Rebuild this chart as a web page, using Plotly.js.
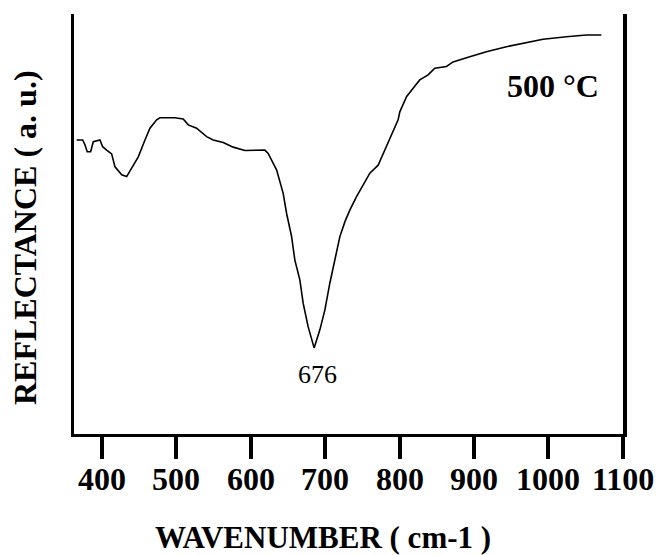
<!DOCTYPE html>
<html>
<head>
<meta charset="utf-8">
<script src="https://cdn.plot.ly/plotly-3.0.1.min.js"></script>
<style>html,body{margin:0;padding:0;background:#fff;}#chart{width:665px;height:555px;}</style>
</head>
<body>
<div id="chart"></div>
<script>
// Wavenumber (cm-1) and reflectance (a.u.)
const wavenumber = [366.0, 374.1, 377.2, 380.2, 384.8, 388.3, 397.3, 400.9, 406.3, 413.0,
  417.5, 426.5, 433.2, 439.9, 448.8, 457.8, 464.5, 473.5, 477.9, 498.1,
  509.2, 516.0, 527.2, 540.7, 549.5, 563.0, 576.4, 592.1, 603.3, 619.0,
  623.4, 634.7, 643.6, 648.2, 654.9, 659.3, 666.0, 670.5, 677.2, 685.2,
  692.9, 699.6, 706.3, 713.0, 719.8, 726.5, 733.2, 742.2, 751.1, 760.1,
  771.2, 777.9, 784.6, 791.3, 798.1, 800.4, 809.4, 818.3, 827.2, 838.4,
  847.4, 863.1, 871.9, 894.4, 916.8, 943.7, 970.6, 992.9, 1024.4, 1051.1, 1071.3];
const reflectance = [70.0, 70.0, 68.8, 67.2, 67.2, 69.6, 70.0, 68.4, 67.6, 66.7,
  63.6, 61.7, 61.3, 63.3, 66.0, 70.0, 72.8, 74.8, 75.3, 75.3,
  75.0, 73.6, 72.8, 70.8, 70.0, 69.4, 68.3, 67.5, 67.6, 67.6,
  66.8, 62.9, 57.3, 52.5, 47.0, 41.4, 36.7, 31.1, 25.5, 20.5,
  24.8, 29.5, 35.9, 41.4, 47.0, 50.5, 53.3, 56.5, 59.3, 62.1,
  64.0, 66.8, 69.2, 72.4, 74.8, 76.7, 80.3, 82.3, 84.3, 85.5,
  87.1, 87.5, 88.6, 89.8, 91.0, 92.2, 93.2, 94.0, 94.6, 95.0, 95.0];
const tickValues = [400, 500, 600, 700, 800, 900, 1000, 1100];
const tickLabels = ['400', '500', '600', '700', '800', '900', '1000', '1100'];
const peakLabel = '676';
const sampleLabel = '500 °C';
const xTitle = 'WAVENUMBER ( cm-1 )';
const yTitle = 'REFLECTANCE ( a. u.)';

let minIdx = 0;
for (let i = 1; i < reflectance.length; i++) if (reflectance[i] < reflectance[minIdx]) minIdx = i;

const serif = '"Liberation Serif", "Times New Roman", serif';

const trace = {
  x: wavenumber, y: reflectance, type: 'scatter', mode: 'lines',
  line: {color: '#000', width: 1.6}, hoverinfo: 'skip', showlegend: false
};

const annotations = [
  {x: wavenumber[minIdx], y: reflectance[minIdx], xref: 'x', yref: 'y',
   text: peakLabel, showarrow: false, xanchor: 'center', yanchor: 'middle',
   xshift: 3, yshift: -27,
   font: {family: serif, size: 26, color: '#000'}},
  {x: 0.8725, y: 0.8286, xref: 'paper', yref: 'paper', text: '<b>' + sampleLabel + '</b>',
   showarrow: false, xanchor: 'center', yanchor: 'middle',
   font: {family: serif, size: 32, color: '#000'}},
  {x: (323 - 74) / 549, y: (434 - 537) / 420, xref: 'paper', yref: 'paper', text: '<b>' + xTitle + '</b>',
   showarrow: false, xanchor: 'center', yanchor: 'middle',
   font: {family: serif, size: 31, color: '#000'}},
  {x: (25 - 74) / 549, y: (434 - 238) / 420, xref: 'paper', yref: 'paper', text: '<b>' + yTitle + '</b>',
   showarrow: false, textangle: -90, xanchor: 'center', yanchor: 'middle',
   font: {family: serif, size: 32, color: '#000'}}
];
tickValues.forEach((v, i) => {
  annotations.push({x: v, y: (434 - 479) / 420, xref: 'x', yref: 'paper', text: '<b>' + tickLabels[i] + '</b>',
    showarrow: false, xanchor: 'center', yanchor: 'middle',
    font: {family: serif, size: 32, color: '#000'}});
});

const layout = {
  width: 665, height: 555,
  margin: {l: 74, r: 42, t: 14, b: 121, pad: 0},
  paper_bgcolor: '#fff', plot_bgcolor: '#fff',
  showlegend: false,
  xaxis: {
    range: [362.4, 1100.4], showgrid: false, zeroline: false,
    showline: true, linecolor: '#000', linewidth: 2.5, mirror: false,
    ticks: 'outside', ticklen: 22, tickwidth: 4, tickcolor: '#000',
    tickmode: 'array', tickvals: tickValues, showticklabels: false
  },
  yaxis: {
    range: [0, 100], showgrid: false, zeroline: false,
    showline: true, linecolor: '#000', linewidth: 3.5, mirror: true,
    ticks: '', showticklabels: false
  },
  annotations: annotations
};

Plotly.newPlot('chart', [trace], layout, {staticPlot: true, displayModeBar: false});
</script>
</body>
</html>
